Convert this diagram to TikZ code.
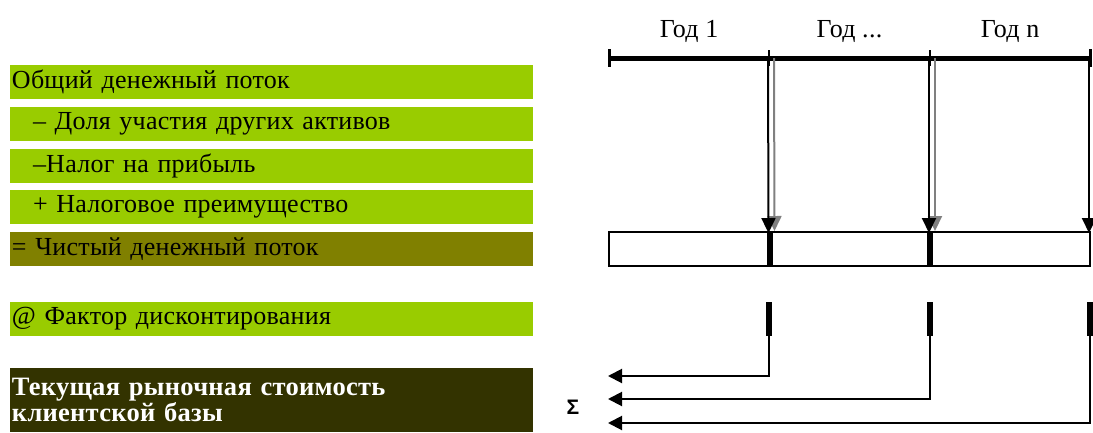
\documentclass[tikz,border=0pt]{standalone}
\usepackage{fontspec}
\setmainfont[LetterSpace=1]{Liberation Serif}
\newfontfamily\sigmafont{Liberation Sans}
\usetikzlibrary{arrows.meta,positioning}

\definecolor{leafgreen}{HTML}{99CC00}
\definecolor{olivebar}{HTML}{808000}
\definecolor{darkolive}{HTML}{333300}

\begin{document}
\begin{tikzpicture}[x=1pt,y=-1pt,semithick,node distance=8pt]
	  \tikzstyle{every node}=[font=\fontsize{26}{28}\selectfont]
	  \tikzstyle{item}=[fill=leafgreen,minimum height=34pt,text width=519pt,inner sep=1pt,inner xsep=2pt,outer sep=0pt,align=left]
	  \tikzstyle{cell}=[draw=black,line width=2.5pt,minimum width=160.5pt,minimum height=34pt,inner sep=0pt,outer sep=0pt]
	  \tikzstyle{dmark}=[fill=black,minimum width=6pt,minimum height=34pt,inner sep=0pt]
	  \tikzstyle{down}=[line width=2pt,-{Triangle[length=15pt,width=14pt]}]
	  \tikzstyle{back}=[line width=2pt,-{Triangle[length=14pt,width=14pt]}]

	  \useasboundingbox (0,0) rectangle (1093,432);

	  % left column
	  \node[item,anchor=north west] (gross) at (10,65) {Общий денежный поток};
	  \node[item,below=of gross] (share) {\hspace*{21pt}– Доля участия других активов};
	  \node[item,below=of share] (tax) {\hspace*{21pt}–Налог на прибыль};
	  \node[item,below=7pt of tax] (shield) {\hspace*{21pt}+ Налоговое преимущество};
	  \node[item,below=of shield,fill=olivebar] (net) {= Чистый денежный поток};
	  \node[item,below=36pt of net] (disc) {@ Фактор дисконтирования};
	  \node[item,below=32pt of disc,fill=darkolive,text=white,font=\fontsize{26.5}{26}\selectfont\bfseries,minimum height=64pt] (value) {Текущая рыночная стоимость\\клиентской базы};

	  % time axis
	  \coordinate (t0) at (609,58);
	  \coordinate (t1) at (769,58);
	  \coordinate (t2) at (930,58);
	  \coordinate (t3) at (1090,58);
	  \draw[line width=5pt] (t0) -- (t3);
	  \draw[line width=3pt] (t0) ++(0,-9) -- ++(0,18) (t3) ++(0,-9) -- ++(0,18);
	  \draw[line width=2pt] (t1) ++(0,-8) -- ++(0,16) (t2) ++(0,-8) -- ++(0,16);
	  \path (t0) -- node[above=12pt] (y1) {Год 1} (t1);
	  \path (t1) -- node[above=12pt] (y2) {Год ...} (t2);
	  \path (t2) -- node[above=12pt] (yn) {Год n} (t3);

	  % cash flow bar
	  \node[cell,anchor=north west] (c1) at (609,232) {};
	  \node[cell,right=0pt of c1] (c2) {};
	  \node[cell,right=0pt of c2,minimum width=160pt] (c3) {};
	  \draw[line width=6pt] (c1.north east) -- (c1.south east) (c2.north east) -- (c2.south east);

	  \draw[down,gray] ([xshift=5pt]t1) -- ([xshift=5pt,yshift=1pt]c1.north east);
	  \draw[down,gray] ([xshift=5pt]t2) -- ([xshift=5pt,yshift=1pt]c2.north east);
	  \draw[down] ([xshift=-1pt]t1) -- ([xshift=-1pt,yshift=-1pt]c1.north east);
	  \draw[down] ([xshift=-1pt]t2) -- ([xshift=-1pt,yshift=-1pt]c2.north east);
	  \draw[down] ([xshift=-1pt]t3) -- ([xshift=-1pt,yshift=-1pt]c3.north east);

	  % discounting
	  \node[dmark] (d1) at (769,319) {};
	  \node[dmark] (d2) at (930,319) {};
	  \node[dmark] (d3) at (1090,319) {};
	  \coordinate (s1) at (608,376);
	  \coordinate (s2) at (608,399);
	  \coordinate (s3) at (608,423);
	  \draw[back] (d1.south) |- (s1);
	  \draw[back] (d2.south) |- (s2);
	  \draw[back] (d3.south) |- (s3);
	  \node (sum) at (573,407) {\sigmafont\fontsize{21}{24}\selectfont\bfseries Σ};
	\end{tikzpicture}
\end{document}
